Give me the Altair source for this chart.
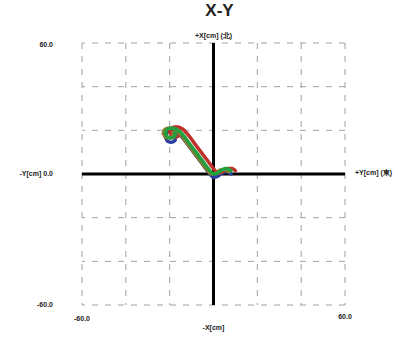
import altair as alt
import pandas as pd

# data (horizontal = Y[cm], vertical = X[cm])
red_y = [10, 8.5, 6.5, 4, 2, 0, -3, -6, -9, -12, -14, -16, -18, -19.5, -20, -19, -17, -15.5, -15.5]
red_x = [1.5, 2.5, 2.5, 1, 0.3, 2.5, 6.5, 10.5, 14.5, 18.5, 20.5, 21.5, 21.5, 20.5, 19, 17.5, 17, 18, 19.5]
olive_y = [7, 5, 3, 1, -1, -3, -6, -9, -12, -15, -17, -19, -21, -22.5, -23, -22, -20, -18.5, -18.5]
olive_x = [1, 2, 1.8, 0.3, 0, 2, 6, 10, 14, 18, 20, 21, 21, 20, 18.5, 17, 16.5, 17.5, 19]
green_y = [8, 6, 4, 2, 0, -2, -5, -8, -11, -14, -16, -18, -20, -21.5, -22, -21, -19, -17.5, -17.5]
green_x = [1.5, 2.5, 2, 0.5, 0, 2, 6, 10, 14, 18, 20, 21, 21, 20, 18.5, 17, 16.5, 17.5, 19]
blue_y = [8, 6, 4, 2, 0, -2, -5, -8, -11, -14, -16, -18, -20, -21.5, -22, -21, -19, -17.5, -17.5]
blue_x = [0, 1, 0.5, -1, -1.5, 0.5, 4.5, 8.5, 12.5, 16.5, 18.5, 19.5, 19.5, 18.5, 17, 15, 14.5, 15.5, 17.5]

grid_values = [-60, -40, -20, 0, 20, 40, 60]

series = [("blue", blue_y, blue_x, "#2b3f9e"),
          ("red", red_y, red_x, "#c0302a"),
          ("olive", olive_y, olive_x, "#8c7a2e"),
          ("green", green_y, green_x, "#22a040")]

xs = alt.Scale(domain=[-60, 60], nice=False, zero=False)
ys = alt.Scale(domain=[-60, 60], nice=False, zero=False)

grid_df = pd.DataFrame({"v": grid_values})
vgrid = alt.Chart(grid_df).mark_rule(color="#a0a0a0", strokeDash=[6, 7], strokeWidth=1).encode(
    x=alt.X("v:Q", scale=xs, axis=None))
hgrid = alt.Chart(grid_df).mark_rule(color="#a0a0a0", strokeDash=[6, 7], strokeWidth=1).encode(
    y=alt.Y("v:Q", scale=ys, axis=None))

zero_df = pd.DataFrame({"v": [0]})
vaxis = alt.Chart(zero_df).mark_rule(color="black", strokeWidth=3).encode(x=alt.X("v:Q", scale=xs, axis=None))
haxis = alt.Chart(zero_df).mark_rule(color="black", strokeWidth=3).encode(y=alt.Y("v:Q", scale=ys, axis=None))

layers = [vgrid, hgrid, vaxis, haxis]
for name, yy, xx, col in series:
    df = pd.DataFrame({"h": yy, "v": xx, "o": list(range(len(yy)))})
    layers.append(alt.Chart(df).mark_line(color=col, strokeWidth=3.5, strokeCap="round", strokeJoin="round",
                                          interpolate="monotone").encode(
        x=alt.X("h:Q", scale=xs, axis=None),
        y=alt.Y("v:Q", scale=ys, axis=None),
        order="o:Q"))

def label(text, h, v, align="center", dx=0, dy=0):
    df = pd.DataFrame({"h": [h], "v": [v], "t": [text]})
    return alt.Chart(df).mark_text(align=align, baseline="middle", dx=dx, dy=dy, font="Liberation Sans",
                                   fontWeight="bold", fontSize=7, color="#222").encode(
        x=alt.X("h:Q", scale=xs, axis=None), y=alt.Y("v:Q", scale=ys, axis=None), text="t:N")

layers += [
    label("60.0", -60, 60, align="right", dx=-29, dy=2),
    label("-60.0", -60, -60, align="right", dx=-29, dy=0),
    label("-Y[cm]  0.0", -60, 0, align="right", dx=-29, dy=0),
    label("-60.0", -60, -60, dy=14),
    label("60.0", 60, -60, dy=12),
    label("-X[cm]", 0, -60, dy=23),
    label("+X[cm] (北)", 0, 60, dy=-7),
    label("+Y[cm] (東)", 60, 0, align="left", dx=10, dy=-1),
]

chart = alt.layer(*layers).properties(
    width=263, height=262,
    title=alt.TitleParams("X-Y", fontSize=17, font="Liberation Sans", fontWeight="bold", color="#222",
                          dx=6, offset=12),
    autosize=alt.AutoSizeParams(type="none"),
    padding={"left": 82, "top": 43, "right": 53, "bottom": 33},
).configure_view(stroke=None)

chart.save("out.html", embed_options={"renderer": "svg", "actions": False})
